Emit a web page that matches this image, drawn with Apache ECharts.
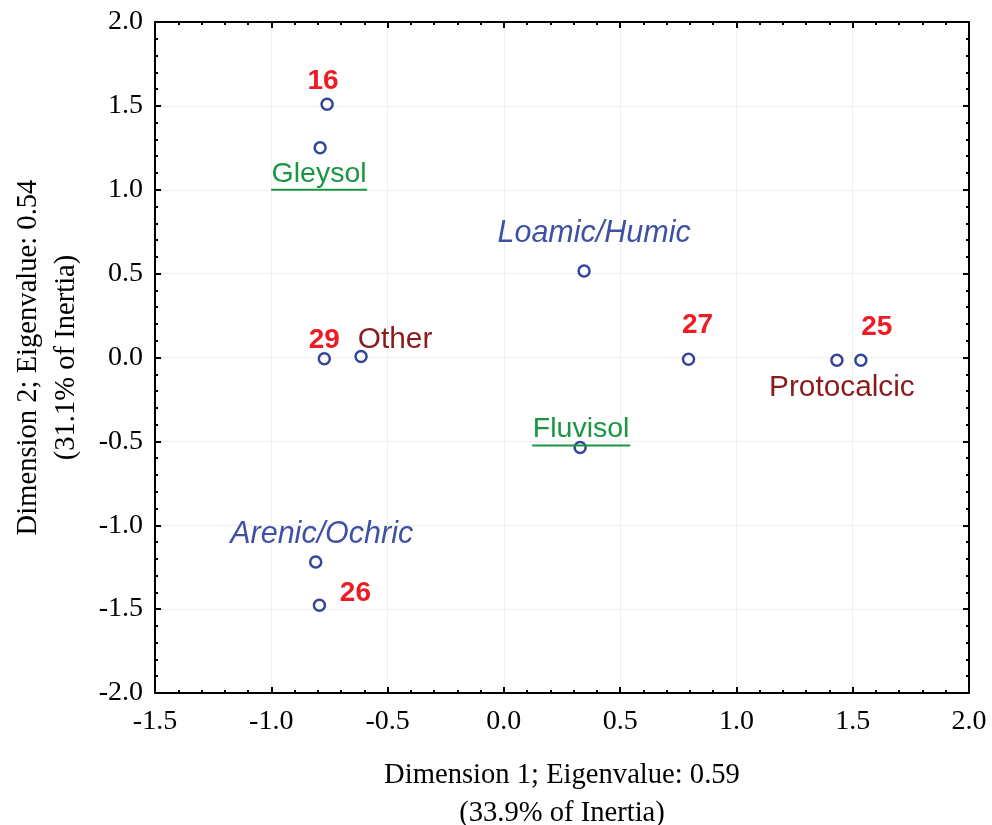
<!DOCTYPE html>
<html>
<head>
<meta charset="utf-8">
<script src="https://cdn.jsdelivr.net/npm/echarts@6/dist/echarts.min.js"></script>
<style>
html,body{margin:0;padding:0;background:#fff;}
#chart{width:992px;height:825px;}
</style>
</head>
<body>
<div id="chart"></div>
<script>
// ---- data ----
const dim1 = [-0.76, -0.79, 0.345, -0.772, -0.614, 0.794, 1.432, 1.535, 0.328, -0.809, -0.793];
const dim2 = [1.51, 1.25, 0.516, -0.008, 0.006, -0.01, -0.016, -0.016, -0.537, -1.219, -1.477];
const pointLabels = ['16', 'Gleysol', 'Loamic/Humic', '29', 'Other', '27', 'Protocalcic', '25', 'Fluvisol', 'Arenic/Ochric', '26'];
const labelKinds = ['num', 'soil', 'group', 'num', 'other', 'num', 'other', 'num', 'soil', 'group', 'num'];
const xTitle = 'Dimension 1; Eigenvalue: 0.59\n(33.9% of Inertia)';
const yTitle = 'Dimension 2; Eigenvalue: 0.54\n(31.1% of Inertia)';

// ---- layout / style (pixel offsets of each label relative to its point) ----
const labelOffsets = [[-4, -23], [-1, 28], [10, -37], [0, -19], [34, -17], [9, -34], [5, 28], [16, -33], [1, -16], [6, -27], [36, -12]];
const underlineWidths = { 'Gleysol': 96, 'Fluvisol': 98 };

const sans = "'Liberation Sans', Arial, Helvetica, sans-serif";
const serif = "'Liberation Serif', 'Times New Roman', serif";
const kindStyle = {
  num:   { color: '#ED1C24', fontWeight: 'bold', fontStyle: 'normal', fontSize: 28 },
  soil:  { color: '#1A9641', fontWeight: 'normal', fontStyle: 'normal', fontSize: 28.5 },
  group: { color: '#3F51A5', fontWeight: 'normal', fontStyle: 'italic', fontSize: 30.5 },
  other: { color: '#8B1A1A', fontWeight: 'normal', fontStyle: 'normal', fontSize: 29.8 }
};

const seriesData = dim1.map((x, i) => {
  const kind = labelKinds[i];
  const st = kindStyle[kind];
  const label = {
    show: true,
    position: 'inside',
    align: 'center',
    verticalAlign: 'middle',
    offset: labelOffsets[i],
    fontFamily: sans,
    fontSize: st.fontSize,
    color: st.color,
    opacity: 1,
    fontWeight: st.fontWeight,
    fontStyle: st.fontStyle
  };
  if (kind === 'soil') {
    label.formatter = '{t|' + pointLabels[i] + '}\n{u|}';
    label.rich = {
      t: { fontFamily: sans, fontSize: st.fontSize, color: st.color, lineHeight: 28, align: 'center' },
      u: { width: underlineWidths[pointLabels[i]], height: 2, lineHeight: 4, backgroundColor: st.color, align: 'center' }
    };
  } else {
    label.formatter = pointLabels[i];
  }
  return { value: [x, dim2[i]], label: label };
});

const fmt = v => v.toFixed(1);
const axisCommon = {
  type: 'value',
  axisLine: { show: true, onZero: false, lineStyle: { color: '#000', width: 2 } },
  axisTick: { show: true, inside: true, length: 6, lineStyle: { color: '#000', width: 2 } },
  minorTick: { show: true, splitNumber: 5, length: 3, lineStyle: { color: '#000', width: 2 } }
};

const chart = echarts.init(document.getElementById('chart'), null, { renderer: 'canvas' });
chart.setOption({
  animation: false,
  backgroundColor: '#fff',
  grid: { left: 155, right: 23, top: 22, bottom: 132, containLabel: false, outerBoundsMode: 'none' },
  xAxis: [
    Object.assign({}, axisCommon, {
      min: -1.5, max: 2.0, interval: 0.5, position: 'bottom',
      name: xTitle, nameLocation: 'middle', nameGap: 63,
      nameTextStyle: { fontFamily: serif, fontSize: 28.6, color: '#000', lineHeight: 38 },
      axisLabel: { show: true, formatter: fmt, fontFamily: serif, fontSize: 28, color: '#000', margin: 15 },
      splitLine: { show: true, lineStyle: { color: '#eeeeee', width: 1 } }
    }),
    Object.assign({}, axisCommon, {
      min: -1.5, max: 2.0, interval: 0.5, position: 'top',
      axisLabel: { show: false }, splitLine: { show: false }
    })
  ],
  yAxis: [
    Object.assign({}, axisCommon, {
      min: -2.0, max: 2.0, interval: 0.5, position: 'left',
      name: yTitle, nameLocation: 'middle', nameGap: 70, nameRotate: 90,
      nameTextStyle: { fontFamily: serif, fontSize: 28.6, color: '#000', lineHeight: 38 },
      axisLabel: { show: true, formatter: fmt, fontFamily: serif, fontSize: 28, color: '#000', margin: 12 },
      splitLine: { show: true, lineStyle: { color: '#eeeeee', width: 1 } }
    }),
    Object.assign({}, axisCommon, {
      min: -2.0, max: 2.0, interval: 0.5, position: 'right',
      axisLabel: { show: false }, splitLine: { show: false }
    })
  ],
  series: [{
    type: 'scatter',
    xAxisIndex: 0,
    yAxisIndex: 0,
    symbol: 'circle',
    symbolSize: 11,
    itemStyle: { color: 'rgba(255,255,255,0)', borderColor: '#34469C', borderWidth: 2.5, opacity: 1 },
    emphasis: { disabled: true },
    data: seriesData
  }]
});
</script>
</body>
</html>
